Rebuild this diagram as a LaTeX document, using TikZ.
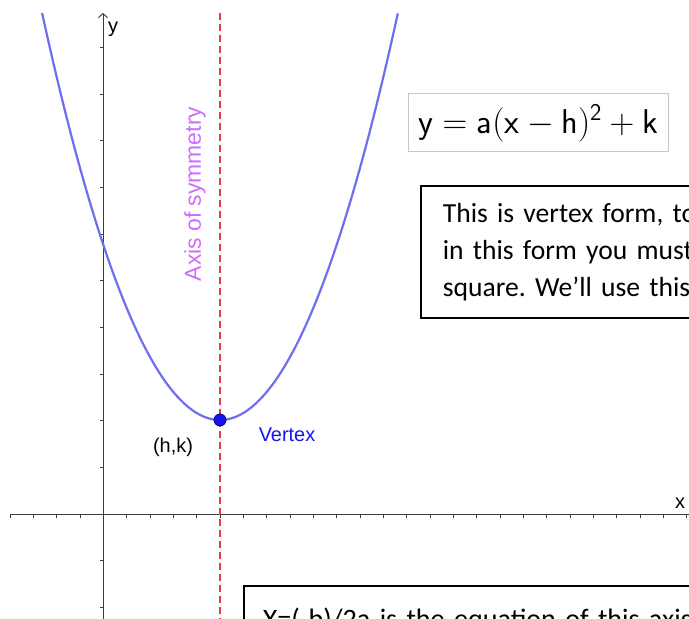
\RequirePackage{fix-cm}
\documentclass[tikz,border=0pt]{standalone}
\usepackage{fontspec}
\usetikzlibrary{arrows.meta}
\newfontfamily\labfont{Liberation Sans}
\newfontfamily\calfont{Carlito}
\definecolor{curveblue}{RGB}{110,110,240}
\definecolor{axisred}{RGB}{226,60,80}
\definecolor{symviolet}{RGB}{204,110,250}
\definecolor{axisgrey}{RGB}{60,60,60}
\definecolor{vertexblue}{RGB}{20,20,240}
\frenchspacing
\begin{document}
\begin{tikzpicture}[x=1bp,y=-1bp,
  axisline/.style={draw=axisgrey,line width=0.9bp},
  tickline/.style={draw=axisgrey,line width=0.8bp},
  curveline/.style={draw=curveblue,line width=2.2bp},
  symline/.style={draw=axisred,line width=1.6bp,dash pattern=on 7bp off 4bp},
  lab/.style={inner sep=0pt,font=\labfont\fontsize{20}{24}\selectfont},
  infobox/.style={draw=black,line width=1.8bp,align=left,anchor=north west},
  formbox/.style={draw=black!22,line width=1bp,minimum width=260bp,minimum height=58bp,inner sep=0pt}
  ]
\useasboundingbox (0,0) rectangle (689,619);
\clip (0,0) rectangle (689,619);
\fill[white] (0,0) rectangle (689,619);
% axes
\coordinate (xl) at (10,514);
\coordinate (xr) at (689,514);
\coordinate (yb) at (103,619);
\coordinate (yt) at (103,13);
\draw[axisline] (xl) -- (xr);
\draw[axisline,-{Straight Barb[length=4bp,width=9bp]}] (yb) -- (yt);
\foreach \k in {0,...,29} {
  \pgfmathsetmacro\tx{10+23.333*\k}
  \draw[tickline] (\tx,514) -- (\tx,517.5);
}
\foreach \k in {-2,-1,1,2,...,10} {
  \pgfmathsetmacro\ty{514-46.667*\k}
  \draw[tickline] (103,\ty) -- (99.5,\ty);
}
\node[lab] (ylab) at (113,29) {y};
\node[lab] (xlab) at (680,503) {x};
% axis of symmetry
\coordinate (st) at (220,13);
\coordinate (sb) at (220,619);
\draw[symline] (st) -- (sb);
\node[lab,text=symviolet,rotate=90,font=\labfont\fontsize{23}{26}\selectfont] (symlab) at (195,194) {Axis of symmetry};
% parabola
\draw[curveline] plot[domain=-1.779:1.779,samples=120] ({220+100*\x},{420-128.6*\x*\x});
% vertex
\node[circle,fill=vertexblue,draw=blue!45!black,line width=0.8bp,minimum size=12bp,inner sep=0pt] (v) at (220,420) {};
\node[lab,text=vertexblue] (vlab) at (287,435) {Vertex};
\node[lab] (hk) at (173,447) {(h,k)};
% formula
\node[formbox] (form) at (538,123) {\fontsize{34.5}{40}\selectfont $\mathsf{y}=\mathsf{a}(\mathsf{x}-\mathsf{h})^{\mathsf{2}}+\mathsf{k}$};
% text boxes
\node[infobox,font=\calfont\fontsize{27.7}{37}\selectfont,text width=420bp,inner xsep=22bp,minimum height=132bp] (box1) at (420,185)
  {This is vertex form, to\\in this form you must\\square. We’ll use this};
\node[infobox,font=\calfont\fontsize{28.2}{34}\selectfont,text width=500bp,inner xsep=19bp,inner ysep=22bp] (box2) at (243,585)
  {X=(-b)/2a is the equation of this axis};
\end{tikzpicture}
\end{document}
